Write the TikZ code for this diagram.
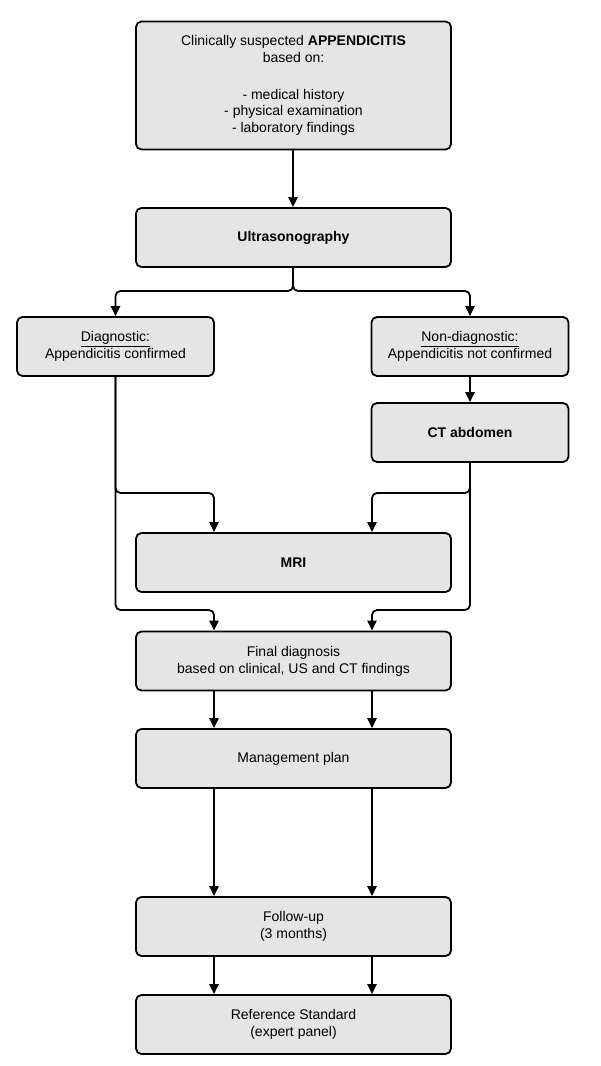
\documentclass[tikz,border=0pt]{standalone}
\usepackage{fontspec}
\setmainfont{Liberation Sans}
\usetikzlibrary{arrows.meta,calc}
\begin{document}
\begin{tikzpicture}[x=0.75pt,y=-0.75pt,
  box/.style={draw=black, fill=black!10, line width=1.35pt, rounded corners=4.1pt,
    align=center, inner sep=0pt, font=\fontsize{10.5pt}{12.6pt}\selectfont},
  wide/.style={box, minimum width=236.25pt, minimum height=44.25pt},
  narrow/.style={box, minimum width=147.75pt, minimum height=44.25pt},
  conn/.style={draw=black, line width=1.35pt, rounded corners=3.75pt,
    -{Triangle[length=7.5pt,width=7pt]}}]
\useasboundingbox (0,0) rectangle (600,1066);

\node[box, minimum width=236.25pt, minimum height=96pt] (top) at (293.5,85.5)
  {Clinically suspected \textbf{APPENDICITIS}\\based on:\\[15pt]- medical history\\- physical examination\\- laboratory findings};
\node[wide] (us) at (293.5,237.5) {\textbf{Ultrasonography}};
\node[narrow] (diag) at (115.5,346.5) {\underline{Diagnostic:}\\Appendicitis confirmed};
\node[narrow] (nondiag) at (470,346.5) {\underline{Non-diagnostic:}\\Appendicitis not confirmed};
\node[narrow] (ct) at (470,432.5) {\textbf{CT abdomen}};
\node[wide] (mri) at (293.5,562.5) {\textbf{MRI}};
\node[wide] (final) at (293.5,661) {Final diagnosis\\based on clinical, US and CT findings};
\node[wide] (mgmt) at (293.5,758.5) {Management plan};
\node[wide] (fu) at (293.5,926.5) {Follow-up\\(3 months)};
\node[wide] (ref) at (293.5,1024.5) {Reference Standard\\(expert panel)};

\coordinate (M) at (293,0);
\coordinate (L) at (214,0);
\coordinate (R) at (372,0);
\coordinate (fork) at (0,291);
\coordinate (upper) at (0,493);
\coordinate (lower) at (0,610);

\draw[conn] (top.south -| M) -- (us.north -| M);
\draw[conn] (us.south -| M) -- (M |- fork) -| (diag.north);
\draw[conn] (us.south -| M) -- (M |- fork) -| (nondiag.north);
\draw[conn] (nondiag.south) -- (ct.north);

\draw[conn] (diag.south) -- (diag.south |- upper) -| (mri.north -| L);
\draw[conn] (diag.south) -- (diag.south |- lower) -| (final.north -| L);
\draw[conn] (ct.south) -- (ct.south |- upper) -| (mri.north -| R);
\draw[conn] (ct.south) -- (ct.south |- lower) -| (final.north -| R);

\draw[conn] (final.south -| L) -- (mgmt.north -| L);
\draw[conn] (final.south -| R) -- (mgmt.north -| R);
\draw[conn] (mgmt.south -| L) -- (fu.north -| L);
\draw[conn] (mgmt.south -| R) -- (fu.north -| R);
\draw[conn] (fu.south -| L) -- (ref.north -| L);
\draw[conn] (fu.south -| R) -- (ref.north -| R);
\end{tikzpicture}
\end{document}
